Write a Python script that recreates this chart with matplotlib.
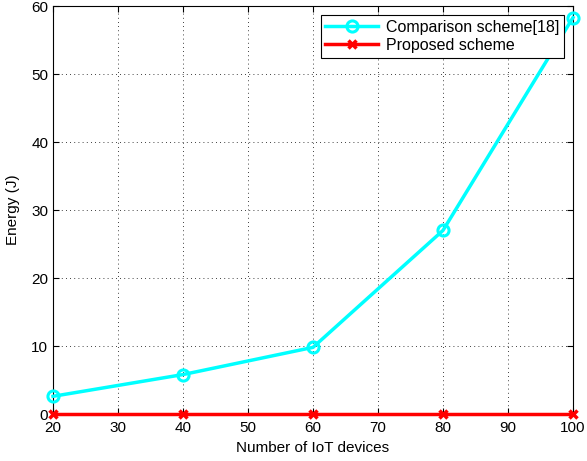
import numpy as np
import matplotlib
matplotlib.use('Agg')
import matplotlib.pyplot as plt

plt.rcParams['font.family'] = ['Liberation Sans', 'DejaVu Sans']

devices = [20, 40, 60, 80, 100]
energy_comparison = [2.6, 5.8, 9.8, 27.0, 58.3]
energy_proposed = [0, 0, 0, 0, 0]

fig = plt.figure(figsize=(5.87, 4.61), dpi=100)
ax = fig.add_axes([53/587, 47/461, 520/587, 408/461])

ax.plot(devices, energy_comparison, color='cyan', linewidth=2.5, marker='o',
        markersize=8, markerfacecolor='none', markeredgewidth=2.2,
        label='Comparison scheme[18]', clip_on=False, zorder=3)
ax.plot(devices, energy_proposed, color='red', linewidth=2.5, marker='x',
        markersize=6, markeredgewidth=2.5, label='Proposed scheme',
        clip_on=False, zorder=4)

ax.set_xlim(20, 100)
ax.set_ylim(0, 60)
ax.set_xticks(np.arange(20, 101, 10))
ax.set_yticks(np.arange(0, 61, 10))
ax.grid(True, color='black', linestyle=(0, (1, 4)), linewidth=0.6)
ax.tick_params(direction='in', top=True, right=True, labelsize=11, length=4)
ax.tick_params(axis='x', pad=5)
for s in ax.spines.values():
    s.set_linewidth(0.8)

ax.set_xlabel('Number of IoT devices', fontsize=11, labelpad=4)
ax.set_ylabel('Energy (J)', fontsize=11, labelpad=8)

leg = ax.legend(loc='upper right', fontsize=11.5, fancybox=False, framealpha=1,
                edgecolor='black', handlelength=3.3, borderpad=0.3,
                labelspacing=0.2, borderaxespad=0.55, handletextpad=0.5)
leg.get_frame().set_linewidth(0.8)

fig.savefig('out.png', dpi=100)
